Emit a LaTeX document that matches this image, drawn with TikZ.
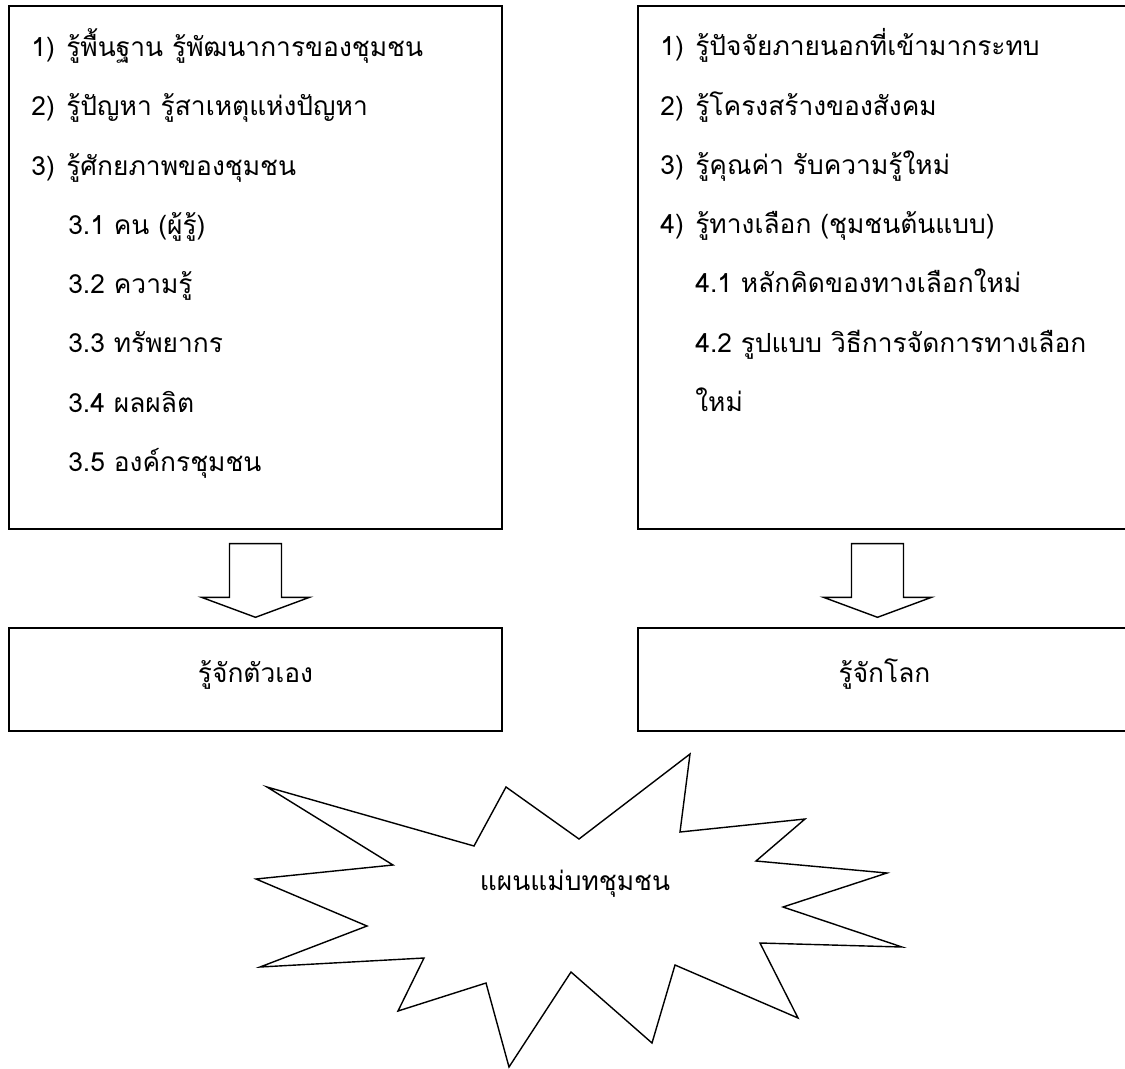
\documentclass[tikz,border=0pt]{standalone}
\usepackage{fontspec}
\setmainfont{Loma}[Script=Thai]
\usetikzlibrary{calc}

\begin{document}
\begin{tikzpicture}[x=0.02cm, y=-0.02cm,
  panel/.style={draw, line width=0.8pt, inner sep=0pt, minimum width=9.86cm},
  listbox/.style={panel, minimum height=10.46cm},
  namebox/.style={panel, minimum height=2.06cm, font=\fontsize{15}{20}\selectfont, text height=12.85pt, text depth=10pt},
  listtext/.style={anchor=north west, align=left, inner sep=0pt, font=\fontsize{15}{33.7}\selectfont},
  blockarrow/.style={draw, line width=0.8pt, line join=miter}]
  \useasboundingbox (0,0) rectangle (1125,1068);

  % upper boxes
  \node[listbox] (selfbox) at (255.5,267.5) {};
  \node[listbox] (worldbox) at (884.5,267.5) {};
  \node[listtext] (selflist) at (31,28.5) {\makebox[0.7cm][l]{1)}รู้พื้นฐาน รู้พัฒนาการของชุมชน\\
    \makebox[0.7cm][l]{2)}รู้ปัญหา รู้สาเหตุแห่งปัญหา\\
    \makebox[0.7cm][l]{3)}รู้ศักยภาพของชุมชน\\
    \hspace*{0.74cm}3.1 คน (ผู้รู้)\\
    \hspace*{0.74cm}3.2 ความรู้\\
    \hspace*{0.74cm}3.3 ทรัพยากร\\
    \hspace*{0.74cm}3.4 ผลผลิต\\
    \hspace*{0.74cm}3.5 องค์กรชุมชน};
  \node[listtext] (worldlist) at (660,28.5) {\makebox[0.7cm][l]{1)}รู้ปัจจัยภายนอกที่เข้ามากระทบ\\
    \makebox[0.7cm][l]{2)}รู้โครงสร้างของสังคม\\
    \makebox[0.7cm][l]{3)}รู้คุณค่า รับความรู้ใหม่\\
    \makebox[0.7cm][l]{4)}รู้ทางเลือก (ชุมชนต้นแบบ)\\
    \hspace*{0.7cm}4.1 หลักคิดของทางเลือกใหม่\\
    \hspace*{0.7cm}4.2 รูปแบบ วิธีการจัดการทางเลือก\\
    \hspace*{0.7cm}ใหม่};

  % lower boxes
  \node[namebox] (selfname) at (255.5,679.5) {รู้จักตัวเอง};
  \node[namebox] (worldname) at (884.5,679.5) {รู้จักโลก};

  % block arrows
  \draw[blockarrow] ($(selfbox.south)+(-26,14)$) -- ($(selfname.north)+(-26,-30)$)
    -- ($(selfname.north)+(-54,-30)$) -- ($(selfname.north)+(0,-10)$)
    -- ($(selfname.north)+(54,-30)$) -- ($(selfname.north)+(26,-30)$)
    -- ($(selfbox.south)+(26,14)$) -- cycle;
  \draw[blockarrow] ($(worldbox.south)+(-33,14)$) -- ($(worldname.north)+(-33,-30)$)
    -- ($(worldname.north)+(-61,-30)$) -- ($(worldname.north)+(-7,-10)$)
    -- ($(worldname.north)+(47,-30)$) -- ($(worldname.north)+(19,-30)$)
    -- ($(worldbox.south)+(19,14)$) -- cycle;

  % starburst
  \draw[blockarrow] (690,754) -- (680,832) -- (805,819) -- (756,861) -- (887,873)
    -- (783,907) -- (902,947) -- (760,943) -- (798,1018) -- (675,965)
    -- (652,1043) -- (571,972) -- (509,1067) -- (486,983) -- (398,1011)
    -- (424,958) -- (260,967) -- (367,926) -- (256,879) -- (393,865)
    -- (267,787) -- (474,846) -- (506,787) -- (579,839) -- cycle;
  \node[anchor=base, font=\fontsize{15}{20}\selectfont] (plan) at (575,890) {แผนแม่บทชุมชน};
\end{tikzpicture}
\end{document}
